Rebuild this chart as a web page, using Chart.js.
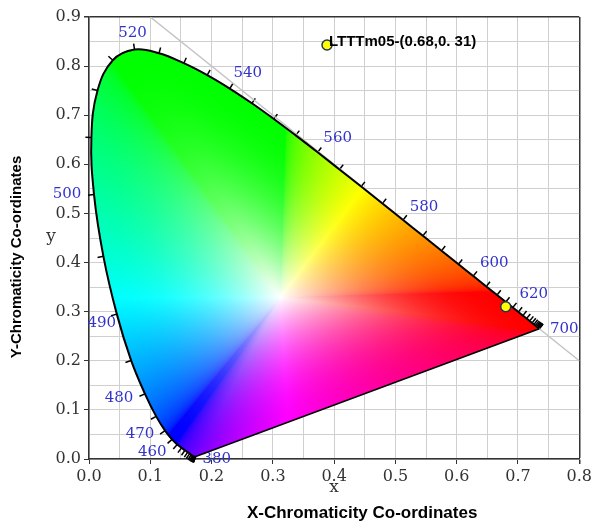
<!DOCTYPE html>
<html>
<head>
<meta charset="utf-8">
<title>CIE 1931 chromaticity</title>
<script src="https://cdn.jsdelivr.net/npm/chart.js@4.4.1/dist/chart.umd.min.js"></script>
<style>
  html, body { margin: 0; padding: 0; background: #fff; }
</style>
</head>
<body>
<canvas id="cie" width="595" height="526"></canvas>
<script>
// CIE 1931 2-degree spectral locus, 5 nm steps
const wavelengths = [380, 385, 390, 395, 400, 405, 410, 415, 420, 425, 430, 435, 440, 445, 450, 455,
  460, 465, 470, 475, 480, 485, 490, 495, 500, 505, 510, 515, 520, 525, 530, 535, 540, 545, 550, 555,
  560, 565, 570, 575, 580, 585, 590, 595, 600, 605, 610, 615, 620, 625, 630, 635, 640, 645, 650, 655,
  660, 665, 670, 675, 680, 685, 690, 695, 700];
const locusX = [0.1741, 0.1740, 0.1738, 0.1736, 0.1733, 0.1730, 0.1726, 0.1721, 0.1714, 0.1703, 0.1689,
  0.1669, 0.1644, 0.1611, 0.1566, 0.1510, 0.1440, 0.1355, 0.1241, 0.1096, 0.0913, 0.0687, 0.0454, 0.0235,
  0.0082, 0.0039, 0.0139, 0.0389, 0.0743, 0.1142, 0.1547, 0.1929, 0.2296, 0.2658, 0.3016, 0.3373, 0.3731,
  0.4087, 0.4441, 0.4788, 0.5125, 0.5448, 0.5752, 0.6029, 0.6270, 0.6482, 0.6658, 0.6801, 0.6915, 0.7006,
  0.7079, 0.7140, 0.7190, 0.7230, 0.7260, 0.7283, 0.7300, 0.7311, 0.7320, 0.7327, 0.7334, 0.7340, 0.7344,
  0.7346, 0.7347];
const locusY = [0.0050, 0.0050, 0.0049, 0.0049, 0.0048, 0.0048, 0.0048, 0.0048, 0.0051, 0.0058, 0.0069,
  0.0086, 0.0109, 0.0138, 0.0177, 0.0227, 0.0297, 0.0399, 0.0578, 0.0868, 0.1327, 0.2007, 0.2950, 0.4127,
  0.5384, 0.6548, 0.7502, 0.8120, 0.8338, 0.8262, 0.8059, 0.7816, 0.7543, 0.7243, 0.6923, 0.6589, 0.6245,
  0.5896, 0.5547, 0.5202, 0.4866, 0.4544, 0.4242, 0.3965, 0.3725, 0.3514, 0.3340, 0.3197, 0.3083, 0.2993,
  0.2920, 0.2859, 0.2809, 0.2770, 0.2740, 0.2717, 0.2700, 0.2689, 0.2680, 0.2673, 0.2666, 0.2660, 0.2656,
  0.2654, 0.2653];
const labeledWavelengths = [380, 460, 470, 480, 490, 500, 520, 540, 560, 580, 600, 620, 700];

// D65 white, centre of the colour fan
const whiteX = 0.3127;
const whiteY = 0.3290;

// measured sample
const sampleName = 'LTTTm05-(0.68,0. 31)';
const sampleX = [0.68];
const sampleY = [0.31];

// x + y = 1 guide line
const diagX = [0.1, 0.8];
const diagY = [0.9, 0.2];

// where each wavelength label sits relative to its point on the locus (px)
const labelOffsets = {
  380: [21, 3], 460: [-25, 8], 470: [-25, 3], 480: [-26, 4], 490: [-15, 9], 500: [-27, 0],
  520: [-2, -16], 540: [18, -15], 560: [20, -14], 580: [21, -13], 600: [21, -13], 620: [21, -13],
  700: [25, 0]
};

const SERIF = "'DejaVu Serif', 'Liberation Serif', serif";
const SANS = "'Liberation Sans', Arial, sans-serif";

const isMajor = v => Math.abs(v * 10 - Math.round(v * 10)) < 1e-6;

// chromaticity -> display sRGB (clip negatives, scale to max)
const xyToRgb = (cx, cy) => {
  const yy = Math.max(cy, 1e-4);
  const X = cx / yy, Y = 1, Z = (1 - cx - cy) / yy;
  let r = 3.2406 * X - 1.5372 * Y - 0.4986 * Z;
  let g = -0.9689 * X + 1.8758 * Y + 0.0415 * Z;
  let b = 0.0557 * X - 0.2040 * Y + 1.0570 * Z;
  r = Math.max(r, 0); g = Math.max(g, 0); b = Math.max(b, 0);
  const m = Math.max(r, g, b) || 1;
  const enc = v => {
    v /= m;
    v = v <= 0.0031308 ? 12.92 * v : 1.055 * Math.pow(v, 1 / 2.4) - 0.055;
    return Math.min(1, v) * 255;
  };
  return [enc(r), enc(g), enc(b)];
};

// distance from white to the locus edge, and the edge colour, per angle
const FAN_BINS = 2048;
const buildFan = () => {
  const n = wavelengths.length;
  const radius = new Float32Array(FAN_BINS);
  const colours = [];
  for (let k = 0; k < FAN_BINS; k++) {
    const th = (k / FAN_BINS) * Math.PI * 2;
    const dx = Math.cos(th), dy = Math.sin(th);
    let best = Infinity;
    for (let i = 0; i < n; i++) {
      const j = (i + 1) % n;
      const ax = locusX[i] - whiteX, ay = locusY[i] - whiteY;
      const ex = locusX[j] - locusX[i], ey = locusY[j] - locusY[i];
      const den = dx * ey - dy * ex;
      if (Math.abs(den) < 1e-12) continue;
      const t = (ax * ey - ay * ex) / den;
      const u = (ax * dy - ay * dx) / den;
      if (t > 0 && u >= 0 && u <= 1 && t < best) best = t;
    }
    radius[k] = best;
    colours.push(xyToRgb(whiteX + dx * best, whiteY + dy * best));
  }
  return { radius, colours };
};

// locus path, following the smoothed line's control points
const traceLocus = (ctx, pts) => {
  ctx.beginPath();
  pts.forEach((p, i) => {
    if (!i) { ctx.moveTo(p.x, p.y); return; }
    const q = pts[i - 1];
    if (q.cp2x !== undefined && p.cp1x !== undefined) {
      ctx.bezierCurveTo(q.cp2x, q.cp2y, p.cp1x, p.cp1y, p.x, p.y);
    } else {
      ctx.lineTo(p.x, p.y);
    }
  });
  ctx.closePath();
};

// outward normal at a locus point, widening the window where points bunch up
const outwardNormal = (pts, i) => {
  for (let k = 1; k < pts.length; k++) {
    const a = pts[Math.max(0, i - k)], b = pts[Math.min(pts.length - 1, i + k)];
    const tx = b.x - a.x, ty = b.y - a.y;
    const len = Math.hypot(tx, ty);
    if (len > 4) return [ty / len, -tx / len];
  }
  return [0, 1];
};

const gamutFill = {
  id: 'gamutFill',
  beforeDatasetsDraw(chart) {
    const { ctx, chartArea: a, scales: { x, y } } = chart;
    const fan = buildFan();
    const w = Math.ceil(a.right - a.left), h = Math.ceil(a.bottom - a.top);
    const off = document.createElement('canvas');
    off.width = w; off.height = h;
    const octx = off.getContext('2d');
    const img = octx.createImageData(w, h);
    for (let j = 0; j < h; j++) {
      const cy = y.getValueForPixel(a.top + j + 0.5) - whiteY;
      for (let i = 0; i < w; i++) {
        const cx = x.getValueForPixel(a.left + i + 0.5) - whiteX;
        let th = Math.atan2(cy, cx);
        if (th < 0) th += Math.PI * 2;
        const bin = Math.round((th / (Math.PI * 2)) * FAN_BINS) % FAN_BINS;
        const t = Math.min(1, Math.hypot(cx, cy) / fan.radius[bin]);
        const s = 1 - (1 - t) * (1 - t);
        const c = fan.colours[bin];
        const k = (j * w + i) * 4;
        img.data[k] = 255 * (1 - s) + c[0] * s;
        img.data[k + 1] = 255 * (1 - s) + c[1] * s;
        img.data[k + 2] = 255 * (1 - s) + c[2] * s;
        img.data[k + 3] = 255;
      }
    }
    octx.putImageData(img, 0, 0);

    const pts = chart.getDatasetMeta(1).data;
    ctx.save();
    traceLocus(ctx, pts);
    ctx.clip();
    ctx.drawImage(off, a.left, a.top);
    ctx.restore();

    // wavelength ticks
    ctx.save();
    ctx.strokeStyle = '#000';
    ctx.lineWidth = 1.5;
    pts.forEach((p, i) => {
      const [nx, ny] = outwardNormal(pts, i);
      ctx.beginPath();
      ctx.moveTo(p.x, p.y);
      ctx.lineTo(p.x + nx * 6, p.y + ny * 6);
      ctx.stroke();
    });

    // wavelength labels
    ctx.fillStyle = '#3333cc';
    ctx.font = '15px ' + SERIF;
    ctx.textAlign = 'center';
    ctx.textBaseline = 'middle';
    pts.forEach((p, i) => {
      const wl = wavelengths[i];
      if (!labeledWavelengths.includes(wl)) return;
      const [dx, dy] = labelOffsets[wl];
      ctx.fillText(String(wl), p.x + dx, p.y + dy);
    });
    ctx.restore();
  }
};

const decorations = {
  id: 'decorations',
  afterDraw(chart) {
    const { ctx, chartArea: a } = chart;
    const midX = (a.left + a.right) / 2, midY = (a.top + a.bottom) / 2;
    ctx.save();
    // inner axis letters
    ctx.fillStyle = '#333';
    ctx.font = '17px ' + SERIF;
    ctx.textAlign = 'center';
    ctx.textBaseline = 'middle';
    ctx.fillText('x', midX, a.bottom + 29);
    ctx.fillText('y', a.left - 38, midY - 1);

    // outer titles
    ctx.fillStyle = '#000';
    ctx.font = 'bold 17px ' + SANS;
    ctx.fillText('X-Chromaticity Co-ordinates', midX + 28, a.bottom + 54);
    ctx.save();
    ctx.translate(17, midY + 19);
    ctx.rotate(-Math.PI / 2);
    ctx.font = 'bold 15px ' + SANS;
    ctx.fillText('Y-Chromaticity Co-ordinates', 0, 0);
    ctx.restore();

    // sample key
    const ds = chart.data.datasets[0];
    const kx = a.left + 238, ky = a.top + 28;
    ctx.beginPath();
    ctx.arc(kx, ky, 5, 0, Math.PI * 2);
    ctx.fillStyle = ds.pointBackgroundColor;
    ctx.fill();
    ctx.lineWidth = ds.pointBorderWidth;
    ctx.strokeStyle = ds.pointBorderColor;
    ctx.stroke();
    ctx.fillStyle = '#000';
    ctx.font = 'bold 15px ' + SANS;
    ctx.textAlign = 'left';
    ctx.fillText(ds.label, kx + 2, ky - 3);
    ctx.restore();
  }
};

const axisOptions = (max, edgeValue, fit) => ({
  type: 'linear',
  min: 0,
  max,
  afterFit: fit,
  ticks: {
    stepSize: 0.05,
    autoSkip: false,
    maxRotation: 0,
    padding: 3,
    color: '#333',
    font: { family: SERIF, size: 16 },
    callback: v => (isMajor(v) ? v.toFixed(1) : '')
  },
  grid: {
    color: c => (Math.abs(c.tick.value - edgeValue) < 1e-6 ? '#333' : '#cfcfcf'),
    lineWidth: c => (Math.abs(c.tick.value - edgeValue) < 1e-6 ? 1.5 : 1),
    tickColor: c => (isMajor(c.tick.value) ? '#333' : 'rgba(0,0,0,0)'),
    tickLength: 5
  },
  border: { color: '#333', width: 1.5 }
});

new Chart(document.getElementById('cie'), {
  type: 'scatter',
  data: {
    datasets: [
      {
        label: sampleName,
        data: sampleX.map((v, i) => ({ x: v, y: sampleY[i] })),
        pointRadius: 5,
        pointBackgroundColor: '#ffff00',
        pointBorderColor: '#1d3557',
        pointBorderWidth: 1.5,
        showLine: false,
        order: 0
      },
      {
        label: 'Spectral locus',
        data: wavelengths.map((wl, i) => ({ x: locusX[i], y: locusY[i] })),
        showLine: true,
        borderColor: '#000',
        borderWidth: 2,
        pointRadius: 0,
        tension: 0.4,
        order: 1
      },
      {
        label: 'Line of purples',
        data: [
          { x: locusX[0], y: locusY[0] },
          { x: locusX[locusX.length - 1], y: locusY[locusY.length - 1] }
        ],
        showLine: true,
        borderColor: '#000',
        borderWidth: 1.5,
        pointRadius: 0,
        order: 1
      },
      {
        label: 'x + y = 1',
        data: diagX.map((v, i) => ({ x: v, y: diagY[i] })),
        showLine: true,
        borderColor: '#c4c4c4',
        borderWidth: 1.5,
        pointRadius: 0,
        order: 2
      }
    ]
  },
  options: {
    responsive: false,
    animation: false,
    layout: { padding: { left: 49, right: 15, top: 17, bottom: 27 } },
    plugins: {
      legend: { display: false },
      tooltip: { enabled: false }
    },
    scales: {
      x: axisOptions(0.8, 0.8, s => { s.height = 40; }),
      y: axisOptions(0.9, 0.9, s => { s.width = 40; })
    }
  },
  plugins: [gamutFill, decorations]
});
</script>
</body>
</html>
